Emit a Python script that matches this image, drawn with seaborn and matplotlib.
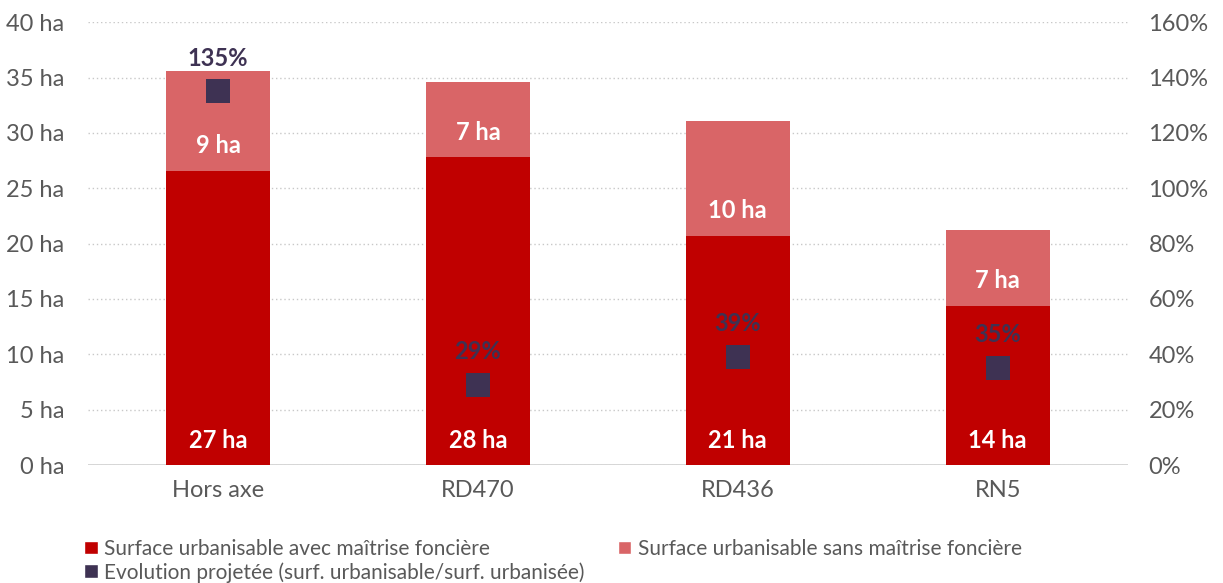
import matplotlib
matplotlib.use("Agg")
import matplotlib.pyplot as plt
from matplotlib.patches import Patch
import seaborn as sns
import pandas as pd

categories = ["Hors axe", "RD470", "RD436", "RN5"]
avec_maitrise = [26.6, 27.8, 20.7, 14.4]      # ha
sans_maitrise = [9.0, 6.8, 10.4, 6.8]         # ha
evolution_pct = [135, 29, 39, 35]             # %

RED = "#C00000"
LIGHT_RED = "#D96567"
PURPLE = "#3E3253"
GRAY = "#595959"

sns.set_theme(style="white")
plt.rcParams["font.family"] = ["Lato", "DejaVu Sans"]

df = pd.DataFrame({
    "cat": categories,
    "avec": avec_maitrise,
    "sans": sans_maitrise,
    "pct": evolution_pct,
})
df["total"] = df["avec"] + df["sans"]

fig = plt.figure(figsize=(12.23, 5.83), dpi=100)
ax = fig.add_axes([0.072, 0.2024, 0.85, 0.7596])

sns.barplot(data=df, x="cat", y="total", color=LIGHT_RED, saturation=1,
            width=0.4, ax=ax, zorder=2, linewidth=0)
sns.barplot(data=df, x="cat", y="avec", color=RED, saturation=1,
            width=0.4, ax=ax, zorder=3, linewidth=0)

ax.set_ylim(0, 40)
ax.set_xlim(-0.5, len(categories) - 0.5)
ax.set_yticks(range(0, 41, 5))
ax.set_yticklabels([f"{v} ha" for v in range(0, 41, 5)])
ax.set_xlabel("")
ax.set_ylabel("")
ax.yaxis.grid(True, linestyle=(0, (1, 2)), color="#C8C8C8", linewidth=1)
ax.set_axisbelow(True)
for s in ax.spines.values():
    s.set_visible(False)
ax.axhline(0, color="#D0D0D0", linewidth=1.2, zorder=1)
ax.tick_params(axis="both", length=0, labelsize=17, labelcolor=GRAY)
ax.tick_params(axis="y", pad=17)
ax.tick_params(axis="x", pad=11)

# Value labels placed near the base of each segment
for i, (a, s) in enumerate(zip(avec_maitrise, sans_maitrise)):
    ax.annotate(f"{a:.0f} ha", (i, 0), xytext=(0, 18), textcoords="offset points",
                ha="center", va="center", color="white", fontsize=17,
                fontweight="bold", zorder=5)
    ax.annotate(f"{s:.0f} ha", (i, a), xytext=(0, 18), textcoords="offset points",
                ha="center", va="center", color="white", fontsize=17,
                fontweight="bold", zorder=5)

ax2 = ax.twinx()
ax2.set_ylim(0, 160)
sns.scatterplot(data=df, x="cat", y="pct", marker="s", s=300, color=PURPLE,
                edgecolor=PURPLE, linewidth=0, ax=ax2, zorder=6)
ax2.set_yticks(range(0, 161, 20))
ax2.set_yticklabels([f"{v}%" for v in range(0, 161, 20)])
ax2.set_ylabel("")
ax2.set_xlabel("")
for s in ax2.spines.values():
    s.set_visible(False)
ax2.tick_params(axis="y", length=0, labelsize=17, labelcolor=GRAY, pad=15)
ax2.grid(False)
for i, p in enumerate(evolution_pct):
    ax2.annotate(f"{p}%", (i, p), xytext=(0, 24), textcoords="offset points",
                 ha="center", va="center", color=PURPLE, fontsize=17,
                 fontweight="bold", zorder=7)

# Column-major fill: first column holds entries 1 and 3
handles = [
    Patch(facecolor=RED, label="Surface urbanisable avec maîtrise foncière"),
    Patch(facecolor=PURPLE, label="Evolution projetée (surf. urbanisable/surf. urbanisée)"),
    Patch(facecolor=LIGHT_RED, label="Surface urbanisable sans maîtrise foncière"),
]
fig.legend(handles=handles, loc="upper left", bbox_to_anchor=(0.062, 0.09),
           ncol=2, frameon=False, fontsize=15, labelcolor=GRAY,
           handlelength=0.65, handleheight=0.65, handletextpad=0.3,
           columnspacing=1.6, labelspacing=0.15, borderaxespad=0)

fig.savefig("out.png", dpi=100)
